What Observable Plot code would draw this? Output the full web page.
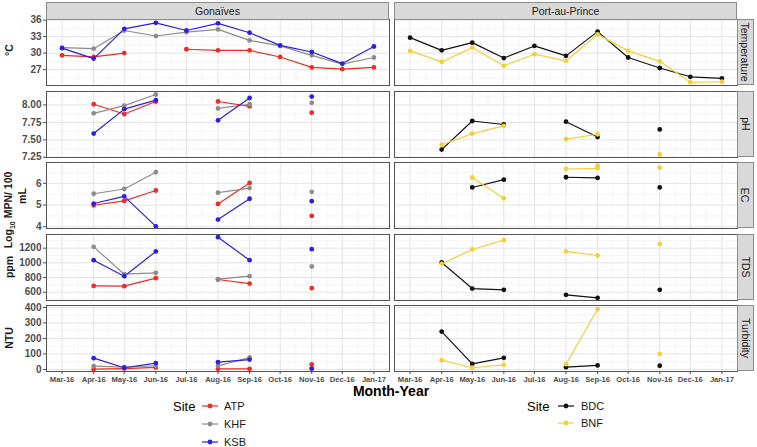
<!DOCTYPE html>
<html><head><meta charset="utf-8">
<script src="https://cdn.jsdelivr.net/npm/d3@7"></script>
<script src="https://cdn.jsdelivr.net/npm/@observablehq/plot@0.6"></script>
<style>
body{margin:0;background:#fff;}
#chart{position:relative;width:757px;height:447px;font-family:"Liberation Sans",Arial,sans-serif;overflow:hidden;background:#fff;}
.strip{position:absolute;background:#d9d9d9;border:1px solid #8c8c8c;box-sizing:border-box;display:flex;align-items:center;justify-content:center;font-size:10.5px;color:#1a1a1a;}
.vstrip span{transform:rotate(90deg);white-space:nowrap;display:block;}
.ytitle{position:absolute;transform:translate(-50%,-50%) rotate(-90deg);font-weight:bold;font-size:10.5px;white-space:nowrap;color:#1a1a1a;}
.lg{position:absolute;font-size:11px;color:#1a1a1a;transform:translateY(-50%);}
.lgt{position:absolute;font-size:13px;color:#000;transform:translateY(-50%);}
</style></head><body><div id="chart"></div><script>
// ---------- data ----------
const regions = ["Gonaïves", "Port-au-Prince"];
const sitesGon = ["ATP", "KHF", "KSB"];
const sitesPap = ["BDC", "BNF"];
const siteColors = ["#ee2b24", "#8c8c8c", "#2c1fe3", "#111111", "#f3d03b"];
const months = ["2016-03-01","2016-04-01","2016-05-01","2016-06-01","2016-07-01","2016-08-01","2016-09-01","2016-10-01","2016-11-01","2016-12-01","2017-01-01"];
const varNames = ["Temperature", "pH", "EC", "TDS", "Turbidity"];

const tempATP = [29.6, 29.3, 30.0, null, 30.7, 30.5, 30.5, 29.3, 27.4, 27.1, 27.4];
const tempKHF = [31.0, 30.8, 34.1, 33.1, 33.8, 34.3, 32.3, 31.3, 29.6, 28.0, 29.2];
const tempKSB = [30.9, 29.0, 34.4, 35.5, 34.1, 35.4, 33.7, 31.4, 30.2, 28.1, 31.2];
const tempBDC = [32.8, 30.5, 31.9, 29.1, 31.3, 29.5, 33.9, 29.2, 27.3, 25.7, 25.4];
const tempBNF = [30.4, 28.4, 31.0, 27.7, 29.8, 28.6, 33.4, 30.4, 28.5, 24.7, 24.8];

const phATP = [null, 8.01, 7.87, 8.05, null, 8.05, 7.98, null, 7.89, null, null];
const phKHF = [null, 7.88, 7.99, 8.15, null, 7.95, 8.01, null, 8.03, null, null];
const phKSB = [null, 7.59, 7.94, 8.07, null, 7.78, 8.10, null, 8.12, null, null];
const phBDC = [null, 7.36, 7.77, 7.72, null, 7.76, 7.54, null, 7.65, null, null];
const phBNF = [null, 7.43, 7.59, 7.70, null, 7.51, 7.58, null, 7.29, null, null];

const ecATP = [null, 4.99, 5.19, 5.67, null, 5.05, 6.02, null, 4.50, null, null];
const ecKHF = [null, 5.52, 5.74, 6.51, null, 5.57, 5.78, null, 5.61, null, null];
const ecKSB = [null, 5.07, 5.40, 4.02, null, 4.33, 5.29, null, 5.18, null, null];
const ecBDC = [null, null, 5.81, 6.17, null, 6.28, 6.25, null, 5.81, null, null];
const ecBNF = [null, null, 6.27, 5.31, null, 6.66, 6.69, null, 6.72, null, null];
const ecBNFrepeat = [null, null, null, null, null, null, 6.81, null, null, null, null];

const tdsATP = [null, 686, 682, 791, null, 773, 718, null, 655, null, null];
const tdsKHF = [null, 1218, 845, 864, null, 777, 818, null, 950, null, null];
const tdsKSB = [null, 1036, 818, 1155, null, 1350, 1036, null, 1186, null, null];
const tdsBDC = [null, 1005, 650, 632, null, 564, 523, null, 632, null, null];
const tdsBNF = [null, 986, 1182, 1309, null, 1155, 1100, null, 1255, null, null];

const turbATP = [null, 2, 6, 13, null, 4, 4, null, 32, null, null];
const turbKHF = [null, 21, 15, 24, null, 23, 77, null, 5, null, null];
const turbKSB = [null, 73, 11, 41, null, 47, 64, null, 6, null, null];
const turbBDC = [null, 244, 36, 75, null, 15, 26, null, 24, null, null];
const turbBNF = [null, 60, 11, 30, null, 34, 389, null, 100, null, null];

const tempTicks = [27, 30, 33, 36];
const phTicks = [7.25, 7.50, 7.75, 8.00];
const ecTicks = [4, 5, 6];
const tdsTicks = [600, 800, 1000, 1200];
const turbTicks = [0, 100, 200, 300, 400];

// ---------- layout / scale settings ----------
const rows = [
  {name: varNames[0], domain: [24.12, 36.1], ticks: tempTicks, fmt: d3.format("d"),
   series: {ATP: tempATP, KHF: tempKHF, KSB: tempKSB, BDC: tempBDC, BNF: tempBNF}},
  {name: varNames[1], domain: [7.247, 8.193], ticks: phTicks, fmt: d3.format(".2f"),
   series: {ATP: phATP, KHF: phKHF, KSB: phKSB, BDC: phBDC, BNF: phBNF}},
  {name: varNames[2], domain: [3.92, 6.96], ticks: ecTicks, fmt: d3.format("d"),
   series: {ATP: ecATP, KHF: ecKHF, KSB: ecKSB, BDC: ecBDC, BNF: ecBNF}, repeat: {BNF: ecBNFrepeat}},
  {name: varNames[3], domain: [487, 1386], ticks: tdsTicks, fmt: d3.format("d"),
   series: {ATP: tdsATP, KHF: tdsKHF, KSB: tdsKSB, BDC: tdsBDC, BNF: tdsBNF}},
  {name: varNames[4], domain: [-13, 412], ticks: turbTicks, fmt: d3.format("d"),
   series: {ATP: turbATP, KHF: turbKHF, KSB: turbKSB, BDC: turbBDC, BNF: turbBNF}}
];
const rowTop = [19, 90.6, 162.2, 233.8, 305.4];
const panelH = 66;

const monthDates = months.map(m => new Date(m));
const minorDates = d3.pairs(monthDates).map(([a, b]) => new Date((+a + +b) / 2));
const day = 864e5;
const xDomain = [new Date(+monthDates[0] - 15.3 * day), new Date(+monthDates[monthDates.length - 1] + 15.3 * day)];

function minorTicks(t, dom) {
  const step = t[1] - t[0];
  const out = [];
  for (let v = t[0] - step / 2; v <= dom[1]; v += step) if (v >= dom[0]) out.push(v);
  return out;
}

function rowData(r) {
  const out = [];
  for (const [site, vals] of Object.entries(r.series)) {
    const region = sitesGon.includes(site) ? regions[0] : regions[1];
    vals.forEach((val, i) => {
      out.push({region, site, date: monthDates[i], value: val});
      const rep = r.repeat && r.repeat[site];
      if (rep && rep[i] != null) out.push({region, site, date: monthDates[i], value: rep[i]});
    });
  }
  return out;
}

const chart = document.getElementById("chart");

rows.forEach((r, i) => {
  const last = i === rows.length - 1;
  const data = rowData(r);
  const mb = last ? 24 : 1;
  const marks = [
    Plot.ruleX(minorDates, {stroke: "#f3f3f3", strokeWidth: 0.8}),
    Plot.ruleY(minorTicks(r.ticks, r.domain), {stroke: "#f3f3f3", strokeWidth: 0.8}),
    Plot.ruleX(monthDates, {stroke: "#e3e3e3", strokeWidth: 1}),
    Plot.ruleY(r.ticks, {stroke: "#e3e3e3", strokeWidth: 1}),
    Plot.line(data, {fx: "region", x: "date", y: "value", z: "site", stroke: "site", strokeWidth: 1.2}),
    Plot.dot(data, {fx: "region", x: "date", y: "value", fill: "site", r: 2.4}),
    Plot.frame({stroke: "#555555", strokeWidth: 1}),
    Plot.axisY(r.ticks, {tickFormat: r.fmt, tickSize: 3, tickPadding: 2, label: null, fontSize: 10})
  ];
  if (last) marks.push(Plot.axisX(monthDates, {tickFormat: d3.utcFormat("%b-%y"), tickSize: 3, tickPadding: 2, label: null, fontSize: 7.6}));
  const svg = Plot.plot({
    width: 757,
    height: panelH + 1 + mb,
    marginLeft: 46, marginRight: 20, marginTop: 1, marginBottom: mb,
    fx: {domain: regions, paddingInner: 0.0145, paddingOuter: 0, axis: null, label: null},
    x: {type: "utc", domain: xDomain, axis: null},
    y: {domain: r.domain, axis: null},
    color: {domain: [...sitesGon, ...sitesPap], range: siteColors},
    style: {fontFamily: "Liberation Sans, Arial, sans-serif", fontSize: "10px", fontWeight: "bold", color: "#4d4d4d", background: "transparent", overflow: "visible"},
    marks
  });
  svg.style.position = "absolute";
  svg.style.left = "0px";
  svg.style.top = (rowTop[i] - 1) + "px";
  chart.appendChild(svg);

  const vs = document.createElement("div");
  vs.className = "strip vstrip";
  Object.assign(vs.style, {left: "737px", top: rowTop[i] + "px", width: "17px", height: panelH + "px"});
  const sp = document.createElement("span");
  sp.textContent = r.name;
  vs.appendChild(sp);
  chart.appendChild(vs);
});

// top strips
[[regions[0], 46], [regions[1], 394]].forEach(([t, x]) => {
  const s = document.createElement("div");
  s.className = "strip";
  Object.assign(s.style, {left: x + "px", top: "2px", width: "343px", height: "18px"});
  s.textContent = t;
  chart.appendChild(s);
});

// y titles
function ytitle(html, x, y) {
  const d = document.createElement("div");
  d.className = "ytitle";
  d.innerHTML = html;
  d.style.left = x + "px"; d.style.top = y + "px";
  chart.appendChild(d);
}
ytitle("°C", 9, 50);
ytitle("Log<sub style='font-size:7px'>10</sub> MPN/ 100", 9, 210);
ytitle("mL", 22, 196);
ytitle("ppm", 9, 267);
ytitle("NTU", 9, 338);

// x title
const xt = document.createElement("div");
Object.assign(xt.style, {position: "absolute", left: "391px", top: "391px", transform: "translate(-50%,-50%)", fontWeight: "bold", fontSize: "14px", color: "#000", whiteSpace: "nowrap"});
xt.textContent = "Month-Year";
chart.appendChild(xt);

// legends
function legend(sites, colors, xTitle, xKey, xLab, y0, dy) {
  const t = document.createElement("div");
  t.className = "lgt"; t.textContent = "Site";
  t.style.left = xTitle + "px"; t.style.top = y0 + "px";
  chart.appendChild(t);
  sites.forEach((s, k) => {
    const y = y0 + k * dy;
    const ns = "http://www.w3.org/2000/svg";
    const g = document.createElementNS(ns, "svg");
    g.setAttribute("width", 16); g.setAttribute("height", 8);
    Object.assign(g.style, {position: "absolute", left: xKey + "px", top: (y - 4) + "px"});
    g.innerHTML = `<line x1="0" x2="16" y1="4" y2="4" stroke="${colors[k]}" stroke-width="1.2"/><circle cx="8" cy="4" r="2.4" fill="${colors[k]}"/>`;
    chart.appendChild(g);
    const l = document.createElement("div");
    l.className = "lg"; l.textContent = s;
    l.style.left = xLab + "px"; l.style.top = y + "px";
    chart.appendChild(l);
  });
}
legend(sitesGon, siteColors.slice(0, 3), 173, 202, 224, 406, 18);
legend(sitesPap, siteColors.slice(3), 527, 558, 581, 406, 17);
</script></body></html>
